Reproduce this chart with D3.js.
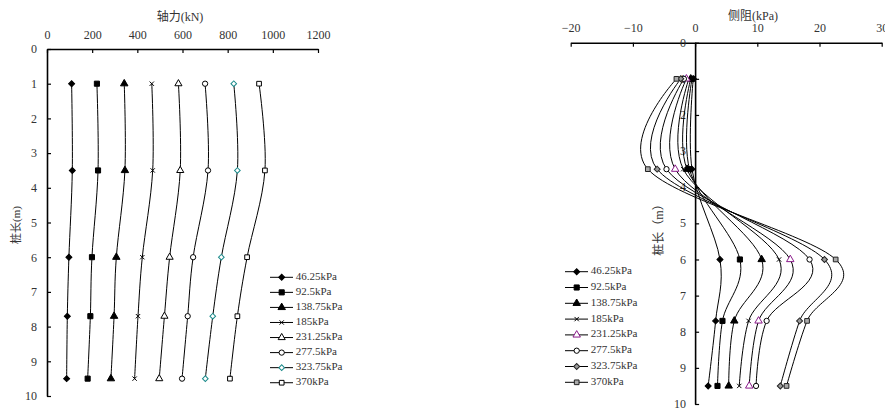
<!DOCTYPE html>
<html><head><meta charset="utf-8">
<script src="https://cdn.jsdelivr.net/npm/d3@7"></script>
<style>body{margin:0;background:#fff}svg{display:block}</style>
</head><body>
<svg id="c" width="885" height="408"></svg>
<script>
// ---- data ----
const depths = [1, 3.5, 6, 7.7, 9.5];
const seriesNames = ["46.25kPa","92.5kPa","138.75kPa","185kPa","231.25kPa","277.5kPa","323.75kPa","370kPa"];
// axial force (kN) at each depth, per series
const axial1 = [109, 112, 97, 90, 87];
const axial2 = [221, 226, 199, 192, 180];
const axial3 = [342, 345, 307, 297, 283];
const axial4 = [464, 468, 422, 403, 388];
const axial5 = [582, 590, 543, 520, 497];
const axial6 = [700, 713, 647, 623, 598];
const axial7 = [827, 843, 772, 734, 701];
const axial8 = [939, 965, 886, 843, 810];
// side resistance (kPa) at each depth, per series
const side1 = [-0.3, -0.5, 4.0, 3.3, 2.1];
const side2 = [-0.5, -0.9, 7.2, 4.4, 3.6];
const side3 = [-0.7, -1.3, 10.7, 6.3, 5.4];
const side4 = [-1.0, -1.9, 13.5, 8.6, 7.1];
const side5 = [-1.4, -3.2, 15.3, 10.2, 8.7];
const side6 = [-1.8, -4.6, 18.4, 11.5, 9.8];
const side7 = [-2.3, -6.1, 20.8, 16.8, 13.7];
const side8 = [-3.0, -7.6, 22.6, 18.0, 14.7];
const leftXTicks = [0, 200, 400, 600, 800, 1000, 1200];
const rightXTicks = [-20, -10, 0, 10, 20, 30];
const yTicks = [0,1,2,3,4,5,6,7,8,9,10];

const axialAll = [axial1,axial2,axial3,axial4,axial5,axial6,axial7,axial8];
const sideAll = [side1,side2,side3,side4,side5,side6,side7,side8];

const svg = d3.select("#c");
const FONT = "Liberation Serif, DejaVu Serif, Noto Sans CJK SC, serif";
const TXT = "#333";

// marker styles
const D = "diamond";
const leftMarkers = [
  {t:D, s:18, fill:"#000", stroke:"#000"},
  {t:d3.symbolSquare, s:26, fill:"#000", stroke:"#000"},
  {t:d3.symbolTriangle, s:24, fill:"#000", stroke:"#000"},
  {t:d3.symbolTimes, s:14, fill:"none", stroke:"#000"},
  {t:d3.symbolTriangle, s:22, fill:"#fff", stroke:"#000"},
  {t:d3.symbolCircle, s:22, fill:"#fff", stroke:"#000"},
  {t:D, s:16, fill:"#fff", stroke:"#1a8a8a"},
  {t:d3.symbolSquare, s:22, fill:"#fff", stroke:"#000"}
];
const rightMarkers = [
  {t:D, s:18, fill:"#000", stroke:"#000"},
  {t:d3.symbolSquare, s:26, fill:"#000", stroke:"#000"},
  {t:d3.symbolTriangle, s:24, fill:"#000", stroke:"#000"},
  {t:d3.symbolTimes, s:14, fill:"none", stroke:"#000"},
  {t:d3.symbolTriangle, s:24, fill:"#fff", stroke:"#8a1a8a"},
  {t:d3.symbolCircle, s:22, fill:"#fff", stroke:"#000"},
  {t:D, s:18, fill:"#999", stroke:"#222"},
  {t:d3.symbolSquare, s:22, fill:"#aaa", stroke:"#222"}
];
function marker(g, m, x, y){
  const isD = m.t === D;
  const path = d3.symbol().type(isD ? d3.symbolSquare : m.t).size(m.s)();
  g.append("path").attr("d", path)
   .attr("transform", `translate(${x},${y})` + (isD ? " rotate(45)" : ""))
   .attr("fill", m.fill).attr("stroke", m.stroke).attr("stroke-width", 1);
}
const curve = d3.curveCardinal.tension(0);

function styleAxis(a){
  a.select(".domain").attr("stroke","#000").attr("stroke-width",1.6);
  a.selectAll(".tick line").attr("stroke","#000").attr("stroke-width",1.2);
  a.selectAll("text").attr("font-family",FONT).attr("font-size",12).attr("fill",TXT);
}

// ================= LEFT CHART =================
{
  const x = d3.scaleLinear().domain([0,1200]).range([47,318]);
  const y = d3.scaleLinear().domain([0,10]).range([49,396]);
  const g = svg.append("g");
  const xa = g.append("g").attr("transform",`translate(0,${y(0)})`)
    .call(d3.axisTop(x).tickValues(leftXTicks).tickSize(-4).tickPadding(10).tickSizeOuter(0).tickFormat(d=>String(d)));
  const ya = g.append("g").attr("transform",`translate(${x(0)},0)`)
    .call(d3.axisLeft(y).tickValues(yTicks).tickSize(-4).tickPadding(10).tickSizeOuter(0).tickFormat(d=>String(d)));
  styleAxis(xa); styleAxis(ya);
  xa.selectAll(".tick text").attr("dy","0");
  g.append("text").attr("x",180).attr("y",21).attr("text-anchor","middle")
   .attr("font-family",FONT).attr("font-size",12).attr("fill",TXT).text("轴力(kN)");
  g.append("text").attr("transform","translate(17,225) rotate(-90)").attr("text-anchor","middle")
   .attr("dominant-baseline","middle")
   .attr("font-family",FONT).attr("font-size",11).attr("fill",TXT).text("桩长(m)");
  const line = d3.line().x(d=>x(d[0])).y(d=>y(d[1])).curve(curve);
  axialAll.forEach((vals,i)=>{
    const pts = vals.map((v,j)=>[v,depths[j]]);
    g.append("path").attr("d",line(pts)).attr("fill","none").attr("stroke","#000").attr("stroke-width",1);
  });
  axialAll.forEach((vals,i)=>{
    vals.forEach((v,j)=>marker(g,leftMarkers[i],x(v),y(depths[j])));
  });
  seriesNames.forEach((n,i)=>{
    const ly = 277.3 + i*15.06;
    g.append("line").attr("x1",270).attr("x2",293).attr("y1",ly).attr("y2",ly).attr("stroke","#000").attr("stroke-width",1);
    marker(g,leftMarkers[i],281.7,ly);
    g.append("text").attr("x",295.7).attr("y",ly).attr("dominant-baseline","middle")
     .attr("font-family",FONT).attr("font-size",11).attr("fill",TXT).text(n);
  });
}

// ================= RIGHT CHART =================
{
  const x = d3.scaleLinear().domain([-20,30]).range([570.7,881.7]);
  const y = d3.scaleLinear().domain([0,10]).range([42.7,404]);
  const g = svg.append("g");
  const xa = g.append("g").attr("transform",`translate(0,${y(0)})`)
    .call(d3.axisTop(x).tickValues(rightXTicks).tickSize(-4).tickPadding(11).tickSizeOuter(0)
      .tickFormat(d=>d<0?"\u2212"+Math.abs(d):String(d)));
  const ya = g.append("g").attr("transform",`translate(${x(0)},0)`)
    .call(d3.axisLeft(y).tickValues(yTicks).tickSize(-4).tickPadding(9).tickSizeOuter(0).tickFormat(d=>String(d)));
  styleAxis(xa); styleAxis(ya);
  xa.selectAll(".tick text").attr("dy","0");
  ya.selectAll(".tick text").attr("dy","0.3em");
  g.append("text").attr("x",753).attr("y",20).attr("text-anchor","middle")
   .attr("font-family",FONT).attr("font-size",12).attr("fill",TXT).text("侧阻(kPa)");
  g.append("text").attr("transform","translate(660,227) rotate(-90)").attr("text-anchor","middle")
   .attr("dominant-baseline","middle")
   .attr("font-family",FONT).attr("font-size",12).attr("fill",TXT).text("桩长（m）");
  const line = d3.line().x(d=>x(d[0])).y(d=>y(d[1])).curve(curve);
  sideAll.forEach((vals,i)=>{
    const pts = vals.map((v,j)=>[v,depths[j]]);
    g.append("path").attr("d",line(pts)).attr("fill","none").attr("stroke","#000").attr("stroke-width",1);
  });
  sideAll.forEach((vals,i)=>{
    vals.forEach((v,j)=>marker(g,rightMarkers[i],x(v),y(depths[j])));
  });
  seriesNames.forEach((n,i)=>{
    const ly = 271.7 + i*15.8;
    g.append("line").attr("x1",565).attr("x2",588).attr("y1",ly).attr("y2",ly).attr("stroke","#000").attr("stroke-width",1);
    marker(g,rightMarkers[i],576.7,ly);
    g.append("text").attr("x",590.7).attr("y",ly).attr("dominant-baseline","middle")
     .attr("font-family",FONT).attr("font-size",11).attr("fill",TXT).text(n);
  });
}
</script>
</body></html>
